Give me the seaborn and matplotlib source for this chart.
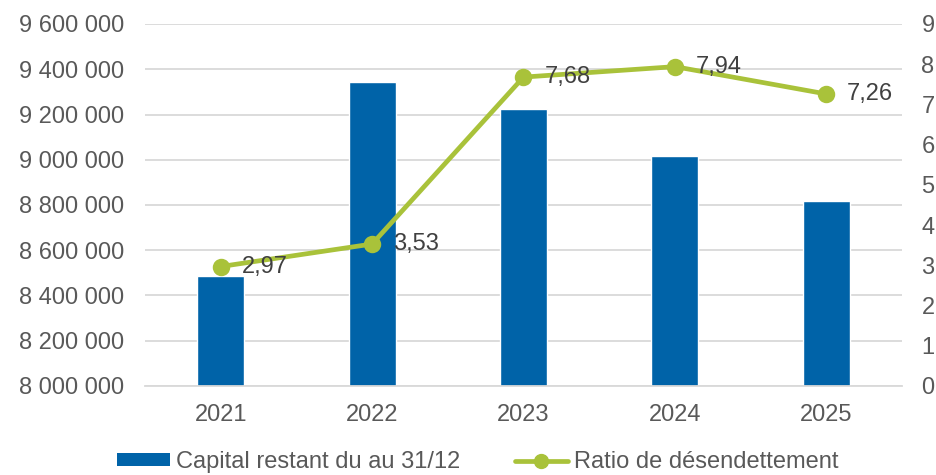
import matplotlib
matplotlib.use("Agg")
import matplotlib.pyplot as plt
from matplotlib.lines import Line2D
from matplotlib.patches import Patch
from matplotlib.ticker import FixedLocator, FuncFormatter
import seaborn as sns
import pandas as pd

years = ["2021", "2022", "2023", "2024", "2025"]
capital = [8486000, 9343000, 9225000, 9015000, 8819000]
ratio = [2.97, 3.53, 7.68, 7.94, 7.26]
left_ticks = [8000000, 8200000, 8400000, 8600000, 8800000, 9000000, 9200000, 9400000, 9600000]
right_ticks = [0, 1, 2, 3, 4, 5, 6, 7, 8, 9]
bar_label = "Capital restant du au 31/12"
line_label = "Ratio de désendettement"

BLUE = "#0063A8"
GREEN = "#A9C23A"
GRID = "#D9D9D9"
TICK_TXT = "#595959"
LABEL_TXT = "#404040"
FS = 17

sns.set_theme(style="white")
plt.rcParams["font.family"] = ["Liberation Sans", "DejaVu Sans"]

df = pd.DataFrame({"year": years, "capital": capital, "ratio": ratio})

fig = plt.figure(figsize=(9.37, 4.75), dpi=100)
ax = fig.add_axes([145 / 937, 1 - 386 / 475, (902 - 145) / 937, (386 - 24) / 475])

# bars: outstanding capital on the left axis
sns.barplot(data=df, x="year", y="capital", color=BLUE, width=0.31,
            saturation=1, ax=ax, zorder=2)
ax.set_ylim(left_ticks[0], left_ticks[-1])
ax.yaxis.set_major_locator(FixedLocator(left_ticks))
ax.yaxis.set_major_formatter(FuncFormatter(lambda v, p: f"{int(v):,}".replace(",", " ")))
ax.grid(axis="y", color=GRID, linewidth=1.3, zorder=0)
ax.set_axisbelow(True)
for side in ("top", "left", "right"):
    ax.spines[side].set_visible(False)
ax.spines["bottom"].set_color(GRID)
ax.spines["bottom"].set_linewidth(1.3)
ax.set_xlabel("")
ax.set_ylabel("")
ax.tick_params(axis="both", length=0, labelsize=FS, colors=TICK_TXT)
ax.tick_params(axis="y", pad=15)
ax.tick_params(axis="x", pad=13)

# line: debt ratio on the right axis
ax2 = ax.twinx()
sns.pointplot(data=df, x="year", y="ratio", color=GREEN, markers="o",
              linewidth=3.4, markersize=10, ax=ax2)
ax2.set_ylim(right_ticks[0], right_ticks[-1])
ax2.yaxis.set_major_locator(FixedLocator(right_ticks))
ax2.set_ylabel("")
ax2.set_xlabel("")
for side in ("top", "left", "right", "bottom"):
    ax2.spines[side].set_visible(False)
ax2.tick_params(axis="y", length=0, labelsize=FS, colors=TICK_TXT, pad=14)
ax2.grid(False)

for i, v in enumerate(ratio):
    ax2.annotate(f"{v:.2f}".replace(".", ","), (i, v), xytext=(15, 0),
                 textcoords="offset points", ha="left", va="center",
                 fontsize=FS, color=LABEL_TXT)

handles = [
    Patch(facecolor=BLUE, edgecolor="none", label=bar_label),
    Line2D([], [], color=GREEN, linewidth=3.4, marker="o", markersize=10, label=line_label),
]
fig.legend(handles=handles, loc="center", bbox_to_anchor=(477.5 / 937, 1 - 462 / 475),
           ncol=2, frameon=False, prop={"size": FS},
           labelcolor=TICK_TXT, handlelength=2.25, handleheight=0.47,
           handletextpad=0.25, columnspacing=2.3, borderpad=0, borderaxespad=0)

fig.savefig("out.png", dpi=100)
